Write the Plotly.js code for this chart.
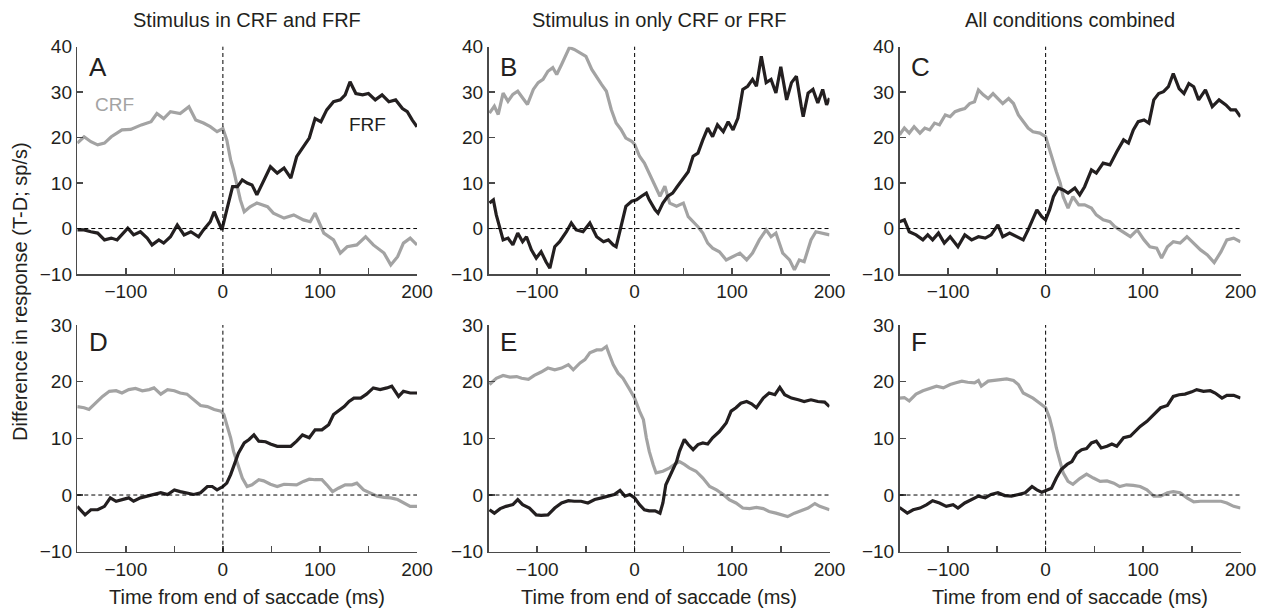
<!DOCTYPE html>
<html><head><meta charset="utf-8">
<script src="https://cdn.plot.ly/plotly-3.0.1.min.js"></script>
<style>html,body{margin:0;padding:0;background:#fff}#chart{width:1265px;height:610px}</style>
</head><body><div id="chart"></div>
<script>
// ---- data: [time (ms), difference (sp/s)] ----
const crfA = [[-150,18.8],[-143,20.2],[-136,19.1],[-129,18.4],[-122,18.8],[-115,20.2],[-104,21.7],[-95,21.8],[-84,22.8],[-74,23.5],[-68,25.3],[-61,24.2],[-54,25.7],[-44,25.3],[-35,26.8],[-28,23.9],[-20,23.2],[-13,22.4],[-6,21.3],[0,22],[4,19.5],[8,15.1],[11,12.9],[15,9.2],[18,6.3],[22,3.7],[28,4.8],[35,5.6],[46,4.8],[52,3.4],[63,2.3],[73,3.0],[83,1.9],[90,1.5],[95,3.4],[104,-1.0],[114,-2.5],[121,-5.4],[128,-4.0],[138,-3.6],[147,-1.8],[155,-3.6],[166,-5.4],[173,-8.0],[180,-6.2],[186,-3.2],[193,-2.1],[200,-3.6]];
const frfA = [[-150,-0.3],[-143,-0.3],[-136,-0.7],[-129,-1.0],[-122,-2.5],[-115,-2.1],[-109,-2.5],[-98,0.1],[-92,-1.4],[-85,-0.7],[-78,-2.1],[-73,-3.6],[-66,-2.5],[-61,-3.2],[-54,-1.8],[-47,0.8],[-40,-1.4],[-33,-0.7],[-25,-1.8],[-20,-0.3],[-13,1.5],[-9,3.7],[-4,1.2],[-1,-0.3],[4,4.1],[10,9.2],[15,9.2],[20,10.7],[25,10.0],[30,9.6],[35,7.4],[42,10.7],[49,13.6],[56,12.2],[63,13.3],[70,11.1],[76,15.8],[83,18.0],[89,19.9],[95,24.2],[101,23.5],[107,26.1],[114,27.9],[121,28.3],[126,29.4],[131,32.3],[137,29.7],[144,29.4],[150,29.7],[157,28.3],[164,29.4],[171,27.9],[178,28.3],[185,26.4],[190,25.7],[195,23.9],[200,22.4]];

const crfB = [[-149,25.4],[-144,26.9],[-140,25.1],[-135,29.8],[-130,28.0],[-125,29.5],[-120,30.2],[-115,28.8],[-110,27.3],[-104,30.6],[-99,32.1],[-94,32.8],[-89,34.6],[-84,35.4],[-80,33.9],[-75,36.1],[-70,38.3],[-67,39.8],[-62,39.4],[-56,38.7],[-50,37.9],[-44,35.0],[-39,33.5],[-34,31.7],[-29,30.2],[-24,26.2],[-19,23.2],[-14,21.8],[-9,19.9],[-3,19.2],[0,18.5],[5,15.9],[10,14.4],[15,12.2],[21,9.3],[26,7.1],[31,9.3],[36,5.6],[43,4.9],[50,5.6],[55,2.6],[60,1.5],[65,0.4],[70,-1.0],[75,-3.2],[80,-4.3],[87,-5.1],[94,-6.9],[101,-6.2],[108,-5.4],[115,-6.9],[121,-5.4],[128,-2.5],[135,-0.3],[140,-1.8],[145,-1.0],[152,-5.4],[159,-6.9],[164,-9.1],[169,-6.9],[174,-7.3],[181,-2.5],[186,-0.7],[193,-1.0],[200,-1.4]];
const frfB = [[-149,5.6],[-145,6.3],[-142,3.0],[-138,-0.3],[-135,-2.5],[-130,-2.1],[-125,-3.6],[-120,-1.0],[-115,-2.9],[-111,-1.8],[-106,-4.7],[-101,-6.5],[-96,-5.1],[-91,-7.3],[-87,-8.7],[-82,-4.0],[-77,-2.9],[-70,-0.7],[-65,1.2],[-60,-0.3],[-53,-0.7],[-46,1.2],[-39,-1.8],[-32,-2.9],[-27,-2.5],[-22,-3.6],[-19,-4.0],[-14,0.4],[-9,4.9],[-3,6.0],[2,6.3],[7,7.1],[12,7.8],[15,6.3],[21,4.1],[24,3.4],[29,5.6],[34,7.1],[39,7.8],[44,9.3],[50,11.1],[55,12.5],[60,15.9],[65,16.6],[70,19.5],[75,22.1],[80,20.2],[85,22.8],[91,21.3],[96,23.5],[101,21.7],[106,24.3],[111,30.6],[116,31.3],[121,32.8],[125,31.3],[130,37.9],[135,32.1],[140,32.8],[145,29.8],[150,35.6],[156,28.3],[161,32.1],[166,33.5],[171,26.9],[173,24.6],[178,29.8],[183,30.6],[188,27.6],[193,30.6],[197,27.2],[200,28.7]];

const crfC = [[-150,20.6],[-145,22.1],[-140,21.0],[-135,22.4],[-129,21.0],[-124,22.1],[-119,21.7],[-114,23.2],[-109,22.8],[-103,25.0],[-98,24.6],[-93,25.7],[-88,26.1],[-83,26.4],[-78,27.5],[-73,27.9],[-69,30.5],[-64,29.4],[-59,28.6],[-54,29.7],[-49,28.6],[-44,27.5],[-38,28.6],[-33,27.5],[-28,25.0],[-23,23.5],[-18,22.1],[-13,21.3],[-6,21.0],[0,20.2],[4,17.3],[8,14.7],[11,12.5],[15,10.0],[18,7.0],[23,4.5],[28,7.0],[34,5.2],[40,5.2],[47,4.5],[52,3.0],[59,1.9],[66,1.5],[71,0.4],[76,-0.3],[82,-1.0],[87,-1.8],[94,-0.3],[101,-2.5],[107,-4.0],[114,-4.3],[119,-6.5],[125,-4.0],[131,-2.9],[138,-3.2],[145,-1.8],[152,-3.2],[159,-4.7],[166,-5.8],[173,-7.5],[180,-5.1],[186,-2.5],[193,-2.1],[200,-2.9]];
const frfC = [[-150,1.5],[-145,1.9],[-140,-0.7],[-133,-1.4],[-126,-2.5],[-121,-1.4],[-116,-2.5],[-110,-1.0],[-104,-3.2],[-98,-1.8],[-90,-4.0],[-83,-1.4],[-76,-2.5],[-69,-1.8],[-62,-2.1],[-56,-1.4],[-49,0.8],[-44,-1.8],[-37,-1.0],[-30,-1.8],[-23,-2.5],[-18,-0.3],[-13,2.3],[-9,4.1],[-4,2.6],[0,1.9],[4,4.1],[8,7.0],[13,8.9],[18,8.5],[23,7.8],[30,8.9],[35,7.4],[40,9.2],[47,12.9],[52,12.2],[59,14.4],[66,14.0],[73,16.9],[80,19.5],[85,18.8],[90,21.7],[95,23.5],[101,23.9],[106,23.2],[111,28.3],[116,29.7],[121,30.1],[126,31.2],[131,34.1],[137,30.8],[142,29.7],[147,31.9],[152,31.2],[157,28.3],[164,30.5],[171,26.8],[178,28.3],[185,27.2],[190,26.1],[195,26.1],[200,24.6]];

const crfD = [[-150,15.6],[-143,15.4],[-138,15.1],[-131,16.2],[-124,17.4],[-117,18.3],[-110,18.4],[-104,18.0],[-97,18.6],[-90,18.8],[-83,18.4],[-76,18.6],[-71,18.9],[-64,17.8],[-57,18.6],[-50,18.4],[-44,18.0],[-37,17.8],[-30,16.8],[-23,15.8],[-16,15.6],[-9,15.1],[-2,14.8],[1,14.2],[4,12.4],[8,10.1],[11,7.7],[15,5.4],[20,3.0],[25,1.5],[30,1.8],[37,2.7],[42,2.5],[49,1.9],[56,1.5],[63,1.9],[70,1.8],[76,1.8],[83,2.4],[89,2.8],[95,2.7],[102,2.7],[107,1.8],[113,0.6],[119,1.2],[126,1.8],[133,1.8],[138,2.1],[145,0.9],[152,0.4],[159,-0.2],[166,-0.4],[173,-0.5],[180,-0.8],[186,-1.4],[193,-2.0],[200,-2.0]];
const frfD = [[-150,-2.0],[-145,-2.9],[-142,-3.5],[-136,-2.6],[-129,-2.6],[-122,-2.0],[-116,-0.5],[-110,-1.1],[-104,-0.8],[-97,-0.5],[-92,-1.1],[-85,-0.5],[-78,-0.2],[-71,0.1],[-64,0.4],[-57,0.1],[-50,0.9],[-44,0.6],[-37,0.4],[-30,0.1],[-23,0.4],[-16,1.5],[-11,1.5],[-6,0.9],[0,1.5],[4,2.1],[8,3.6],[13,5.9],[16,7.4],[22,9.2],[27,9.8],[32,10.6],[37,9.5],[44,9.4],[49,9.0],[56,8.6],[63,8.6],[70,8.6],[76,9.5],[82,10.6],[89,10.1],[95,11.5],[102,11.5],[109,12.4],[114,14.2],[119,14.8],[125,15.6],[130,16.5],[135,17.1],[142,17.1],[148,17.8],[155,18.9],[162,18.6],[169,18.9],[174,19.2],[181,17.4],[186,18.3],[193,18.0],[200,18.0]];

const crfE = [[-149,19.5],[-142,20.6],[-135,21.1],[-128,20.8],[-121,20.9],[-116,20.6],[-109,20.4],[-103,21.1],[-96,21.7],[-89,22.4],[-82,22.1],[-75,22.4],[-68,23.0],[-63,22.1],[-56,23.3],[-51,23.9],[-46,25.1],[-39,25.6],[-34,25.6],[-29,26.2],[-26,24.8],[-22,23.0],[-17,21.5],[-12,20.6],[-5,18.6],[0,17.1],[5,14.8],[9,13.3],[12,10.1],[15,7.7],[19,5.4],[22,3.9],[29,4.2],[36,4.8],[41,5.4],[46,5.9],[51,5.4],[56,4.8],[63,4.2],[70,3.0],[77,1.5],[84,0.9],[91,0.1],[97,-0.8],[104,-1.4],[111,-2.3],[118,-2.4],[125,-2.2],[132,-2.4],[138,-2.9],[145,-3.2],[152,-3.6],[157,-3.8],[164,-3.2],[171,-2.8],[178,-2.3],[185,-1.5],[190,-2.0],[195,-2.3],[200,-2.6]];
const frfE = [[-149,-2.6],[-144,-3.2],[-138,-2.4],[-132,-2.0],[-125,-1.7],[-120,-0.8],[-115,-1.7],[-108,-2.3],[-101,-3.5],[-96,-3.6],[-89,-3.5],[-82,-2.3],[-75,-1.4],[-68,-1.0],[-62,-1.1],[-55,-1.1],[-48,-1.4],[-41,-0.8],[-34,-0.5],[-27,-0.2],[-21,0.1],[-15,0.8],[-10,-0.2],[-5,0.1],[0,-0.5],[5,-1.7],[10,-2.6],[15,-2.8],[21,-2.8],[26,-3.2],[29,-1.4],[32,1.8],[38,4.2],[43,5.9],[46,7.7],[51,9.8],[55,8.9],[60,8.0],[65,8.9],[70,9.2],[75,9.0],[80,10.1],[87,11.2],[94,12.7],[99,14.8],[104,15.4],[109,16.2],[115,16.5],[120,16.1],[125,15.4],[132,17.1],[138,18.0],[144,17.7],[149,19.0],[154,17.7],[161,17.1],[168,16.8],[174,16.5],[181,16.8],[188,16.5],[195,16.4],[200,15.6]];

const crfF = [[-150,17.1],[-145,17.2],[-140,16.6],[-133,17.8],[-126,18.4],[-119,18.8],[-112,19.2],[-105,18.9],[-98,19.5],[-92,19.8],[-86,20.1],[-80,19.9],[-73,19.8],[-69,20.2],[-66,19.2],[-59,20.1],[-52,20.2],[-45,20.4],[-40,20.5],[-33,20.2],[-28,19.5],[-23,18.0],[-18,17.6],[-13,17.1],[-6,16.2],[0,15.4],[4,13.6],[8,10.9],[11,8.3],[15,5.9],[18,3.9],[23,2.4],[28,1.9],[35,2.9],[42,3.7],[49,3.0],[56,2.4],[63,2.5],[70,2.1],[76,1.5],[83,1.8],[90,1.7],[97,1.5],[104,0.9],[111,-0.2],[118,-0.2],[125,0.4],[131,0.6],[138,0.4],[145,-0.5],[152,-1.2],[159,-1.1],[166,-1.1],[173,-1.0],[180,-1.1],[186,-1.4],[193,-2.0],[200,-2.3]];
const frfF = [[-150,-2.2],[-145,-2.9],[-142,-3.2],[-136,-2.6],[-129,-2.3],[-122,-1.7],[-116,-1.0],[-109,-1.4],[-102,-2.0],[-95,-1.7],[-90,-2.3],[-83,-1.4],[-76,-0.8],[-69,-0.2],[-62,-0.5],[-56,0.1],[-49,0.4],[-42,-0.1],[-35,-0.2],[-28,0.1],[-21,0.4],[-14,1.5],[-9,0.9],[-4,0.5],[0,0.8],[6,1.2],[11,3.0],[16,4.5],[22,5.4],[27,5.9],[32,7.4],[37,8.0],[42,8.2],[47,9.2],[52,9.5],[57,8.3],[63,8.6],[68,9.0],[73,8.6],[80,10.1],[87,10.4],[92,11.2],[97,12.1],[104,13.0],[111,14.2],[118,15.4],[125,15.8],[131,17.4],[137,17.7],[143,17.8],[150,18.2],[155,18.6],[162,18.3],[169,18.4],[174,18.0],[181,17.1],[186,17.6],[193,17.6],[200,17.1]];

const columnTitles = ['Stimulus in CRF and FRF', 'Stimulus in only CRF or FRF', 'All conditions combined'];
const panelLetters = ['A','B','C','D','E','F'];
const xTickVals = [-100,-50,0,50,100,150,200];
const xTickText = ['\u2212100','','0','','100','','200'];
const yTopTickVals = [-10,0,10,20,30,40];
const yTopTickText = ['\u221210','0','10','20','30','40'];
const yBotTickVals = [-10,0,10,20,30];
const yBotTickText = ['\u221210','0','10','20','30'];
const xTitle = 'Time from end of saccade (ms)';
const yTitle = 'Difference in response (T-D; sp/s)';

// ---- layout ----
const W = 1265, H = 610;
const xDom = [[77.3, 417], [488.5, 829.5], [899.5, 1240.5]].map(d => [d[0]/W, d[1]/W]);
const yDomTop = [1 - 274/H, 1 - 46.7/H];
const yDomBot = [1 - 551.7/H, 1 - 325/H];

const panels = [
  {crf: crfA, frf: frfA}, {crf: crfB, frf: frfB}, {crf: crfC, frf: frfC},
  {crf: crfD, frf: frfD}, {crf: crfE, frf: frfE}, {crf: crfF, frf: frfF}
];

const GRAY = '#a3a3a3', BLACK = '#231f20', AXC = '#4a4a4a', TXT = '#231f20';
const FONT = 'Liberation Sans, Arial, sans-serif';
const traces = [];
const layout = {
  width: W, height: H, margin: {l:0, r:0, t:0, b:0},
  paper_bgcolor: '#fff', plot_bgcolor: 'rgba(0,0,0,0)',
  showlegend: false, font: {family: FONT, size: 19, color: TXT},
  shapes: [], annotations: []
};

panels.forEach((p, i) => {
  const n = i + 1;
  const xa = 'x' + (n === 1 ? '' : n), ya = 'y' + (n === 1 ? '' : n);
  const xk = 'xaxis' + (n === 1 ? '' : n), yk = 'yaxis' + (n === 1 ? '' : n);
  const top = i < 3;
  traces.push({x: p.crf.map(d => d[0]), y: p.crf.map(d => d[1]), xaxis: xa, yaxis: ya,
    mode: 'lines', line: {color: GRAY, width: 3.2}, hoverinfo: 'skip'});
  traces.push({x: p.frf.map(d => d[0]), y: p.frf.map(d => d[1]), xaxis: xa, yaxis: ya,
    mode: 'lines', line: {color: BLACK, width: 3.2}, hoverinfo: 'skip'});
  layout[xk] = {domain: xDom[i % 3], anchor: ya, range: [-150, 200], showgrid: false, zeroline: false,
    showline: true, linecolor: AXC, linewidth: 1.5, ticks: 'inside', ticklen: 6, tickwidth: 1.5, tickcolor: AXC,
    tickvals: xTickVals, ticktext: xTickText, tickfont: {size: 19, family: FONT, color: TXT}, fixedrange: true};
  layout[yk] = {domain: top ? yDomTop : yDomBot, anchor: xa, range: top ? [-10, 40] : [-10, 30],
    showgrid: false, zeroline: false, showline: true, linecolor: AXC, linewidth: 1.5,
    ticks: 'inside', ticklen: 6, tickwidth: 1.5, tickcolor: AXC,
    tickvals: top ? yTopTickVals : yBotTickVals, ticktext: top ? yTopTickText : yBotTickText,
    tickfont: {size: 19, family: FONT, color: TXT}, fixedrange: true};
  // dashed reference lines
  layout.shapes.push({type: 'line', xref: xa, yref: ya + ' domain', x0: 0, x1: 0, y0: 0, y1: 1,
    line: {color: '#000', width: 1, dash: '4px,3px'}});
  layout.shapes.push({type: 'line', xref: xa + ' domain', yref: ya, x0: 0, x1: 1, y0: 0, y1: 0,
    line: {color: '#000', width: 1, dash: '4px,3px'}});
  // panel letter
  layout.annotations.push({text: panelLetters[i], xref: xa + ' domain', yref: ya + ' domain',
    x: 0.028, y: top ? 0.911 : 0.926, xanchor: 'left', yanchor: 'middle', showarrow: false,
    font: {size: 26, family: FONT, color: TXT}});
  const cx = (xDom[i % 3][0] + xDom[i % 3][1]) / 2;
  if (top) {
    layout.annotations.push({text: columnTitles[i], xref: 'paper', yref: 'paper',
      x: cx, y: 1 - 20/H, xanchor: 'center', yanchor: 'middle', showarrow: false,
      font: {size: 20, family: FONT, color: TXT}});
  } else {
    layout.annotations.push({text: xTitle, xref: 'paper', yref: 'paper',
      x: cx, y: 1 - 597/H, xanchor: 'center', yanchor: 'middle', showarrow: false,
      font: {size: 20, family: FONT, color: TXT}});
  }
});

layout.annotations.push({text: 'CRF', xref: 'x domain', yref: 'y domain', x: (114-77.3)/339.7, y: 1-(105-46.7)/227.3,
  xanchor: 'center', yanchor: 'middle', showarrow: false, font: {size: 19, family: FONT, color: GRAY}});
layout.annotations.push({text: 'FRF', xref: 'x domain', yref: 'y domain', x: (367-77.3)/339.7, y: 1-(125-46.7)/227.3,
  xanchor: 'center', yanchor: 'middle', showarrow: false, font: {size: 19, family: FONT, color: BLACK}});
layout.annotations.push({text: yTitle, xref: 'paper', yref: 'paper', x: 20/W, y: 1-292/H, textangle: -90,
  xanchor: 'center', yanchor: 'middle', showarrow: false, font: {size: 20, family: FONT, color: TXT}});

Plotly.newPlot('chart', traces, layout, {staticPlot: true, displayModeBar: false});
</script></body></html>
